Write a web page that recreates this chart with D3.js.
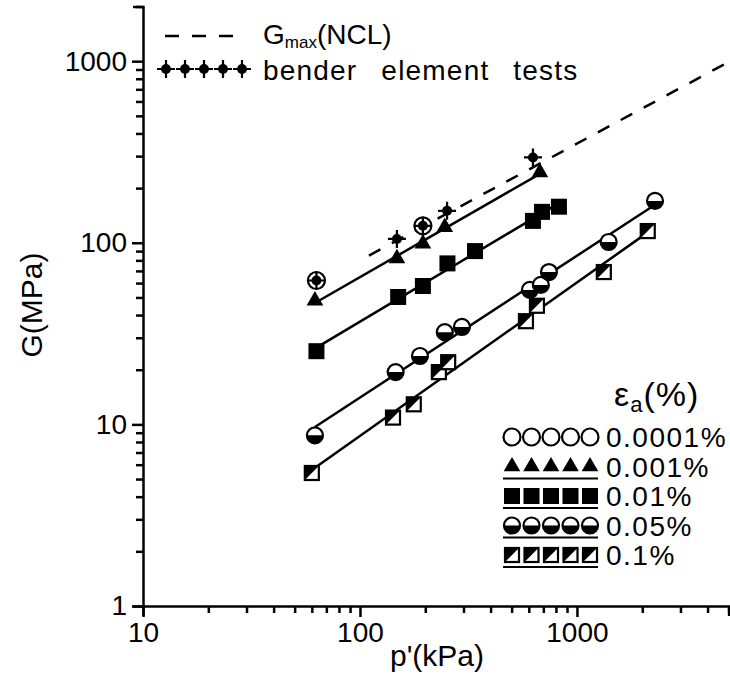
<!DOCTYPE html>
<html>
<head>
<meta charset="utf-8">
<script src="https://cdn.jsdelivr.net/npm/d3@7"></script>
<style>
  body { margin: 0; background: #fff; }
  svg { font-family: "Liberation Sans", Arial, sans-serif; }
</style>
</head>
<body>
<svg width="730" height="679"></svg>
<script>
// p' (kPa) and G (MPa)
const pBender = [63, 148, 195, 252, 627];
const gBender = [62, 105, 124, 150, 295];
const p0001 = [63, 195];
const g0001 = [62, 124];
const p001 = [62, 148, 195, 246, 675];
const g001 = [48, 82, 99, 122, 244];
const p01 = [63, 150, 195, 253, 339, 627, 690, 826];
const g01 = [25.3, 50.3, 57.8, 77, 90, 132, 148, 158];
const p05 = [62, 146, 189, 246, 295, 607, 682, 743, 1400, 2290];
const g05 = [8.7, 19.4, 23.8, 32.2, 34.4, 55, 58.6, 69, 101, 170];
const p1 = [60, 142, 177, 231, 255, 582, 654, 1330, 2120];
const g1 = [5.4, 10.9, 12.9, 19.4, 22, 37, 45, 69, 116];
// Gmax (NCL) dashed line ends
const pNCL = [110, 5000];
const gNCL = [85, 990];

const xLabels = [10, 100, 1000];
const yLabels = [1, 10, 100, 1000];
const strainLabels = ["0.0001%", "0.001%", "0.01%", "0.05%", "0.1%"];
const strainMarks = ["circle", "triangle", "square", "halfcircle", "halfsquare"];

const svg = d3.select("svg");

const x = d3.scaleLog().domain([10, 5000]).range([143, 728.6]);
const y = d3.scaleLog().domain([1, 2000]).range([606, 6.5]);

// axes
const gx = svg.append("g")
  .attr("transform", "translate(0," + y(1) + ")")
  .call(d3.axisBottom(x).tickValues(x.ticks()).tickSizeOuter(0).tickSize(10).tickPadding(6)
    .tickFormat(d => xLabels.includes(d) ? d : ""));
gx.selectAll(".tick line").attr("y2", d => xLabels.includes(d) ? 11 : 7);

const gy = svg.append("g")
  .attr("transform", "translate(" + x(10) + ",0)")
  .call(d3.axisLeft(y).tickValues(y.ticks()).tickSizeOuter(0).tickSize(10).tickPadding(6)
    .tickFormat(d => yLabels.includes(d) ? d : ""));
gy.selectAll(".tick line").attr("x2", d => yLabels.includes(d) ? -11 : -7);

svg.selectAll(".domain, .tick line").attr("stroke", "#000").attr("stroke-width", 2.5);
svg.selectAll(".tick text").attr("font-size", 28).attr("fill", "#000")
  .attr("font-family", "'Liberation Sans', Arial, sans-serif");

svg.append("text")
  .attr("transform", "translate(42,305) rotate(-90)")
  .attr("text-anchor", "middle")
  .attr("font-size", 30)
  .text("G(MPa)");

svg.append("text")
  .attr("x", 437).attr("y", 666)
  .attr("text-anchor", "middle")
  .attr("font-size", 30)
  .text("p'(kPa)");

// NCL dashed line
const line = d3.line().x(d => x(d[0])).y(d => y(d[1]));
svg.append("path")
  .attr("d", line(pNCL.map((p, i) => [p, gNCL[i]])))
  .attr("fill", "none").attr("stroke", "#000").attr("stroke-width", 2.5)
  .attr("stroke-dasharray", "13,13");

// straight line fits (log-log)
function fit(ps, gs) {
  const lx = ps.map(Math.log10), ly = gs.map(Math.log10);
  const mx = d3.mean(lx), my = d3.mean(ly);
  const b = d3.sum(lx, (v, i) => (v - mx) * (ly[i] - my)) / d3.sum(lx, v => (v - mx) * (v - mx));
  const a = my - b * mx;
  const ends = d3.extent(ps);
  return ends.map(p => [p, Math.pow(10, a + b * Math.log10(p))]);
}

[[p001, g001], [p01, g01], [p05, g05], [p1, g1]].forEach(s => {
  svg.append("path")
    .attr("d", line(fit(s[0], s[1])))
    .attr("fill", "none").attr("stroke", "#000").attr("stroke-width", 2.5);
});

// markers
function marker(g, type, cx, cy) {
  const m = g.append("g").attr("transform", "translate(" + cx + "," + cy + ")");
  if (type == "circle") {
    m.append("circle").attr("r", 8.5).attr("fill", "#fff").attr("stroke", "#000").attr("stroke-width", 2.2);
  } else if (type == "triangle") {
    m.append("path").attr("d", d3.symbol(d3.symbolTriangle, 120)()).attr("fill", "#000");
  } else if (type == "square") {
    m.append("rect").attr("x", -8).attr("y", -8).attr("width", 16).attr("height", 16).attr("fill", "#000");
  } else if (type == "halfcircle") {
    m.append("circle").attr("r", 8).attr("fill", "#fff").attr("stroke", "#000").attr("stroke-width", 2.2);
    m.append("path").attr("d", "M-8,0 A8,8 0 0 0 8,0 Z").attr("fill", "#000");
  } else if (type == "halfsquare") {
    m.append("rect").attr("x", -7).attr("y", -7).attr("width", 14).attr("height", 14)
      .attr("fill", "#fff").attr("stroke", "#000").attr("stroke-width", 2.2);
    m.append("path").attr("d", "M-7,-7 L7,-7 L-7,7 Z").attr("fill", "#000");
  } else if (type == "bender") {
    m.append("circle").attr("r", 5).attr("fill", "#000");
    m.append("path").attr("d", "M-9,0 H9 M0,-9 V9").attr("stroke", "#000").attr("stroke-width", 2.2);
  }
}

const pts = svg.append("g");
const series = [
  [p001, g001, "triangle"], [p01, g01, "square"], [p05, g05, "halfcircle"],
  [p1, g1, "halfsquare"], [p0001, g0001, "circle"], [pBender, gBender, "bender"]
];
series.forEach(s => {
  s[0].forEach((p, i) => marker(pts, s[2], x(p), y(s[1][i])));
});

// top-left legend
const lg = svg.append("g");
lg.append("line").attr("x1", 165).attr("x2", 242).attr("y1", 36).attr("y2", 36)
  .attr("stroke", "#000").attr("stroke-width", 2.5).attr("stroke-dasharray", "14,13");
const t1 = lg.append("text").attr("x", 263).attr("y", 44).attr("font-size", 28);
t1.append("tspan").text("G");
t1.append("tspan").attr("font-size", 17).attr("dy", 4).text("max");
t1.append("tspan").attr("dy", -4).text("(NCL)");
d3.range(5).forEach(i => marker(lg, "bender", 166 + i * 19, 69));
lg.append("text").attr("x", 263).attr("y", 80).attr("font-size", 28)
  .attr("letter-spacing", 1.2).attr("word-spacing", 15).text("bender element tests");

// bottom-right legend
const rg = svg.append("g");
const te = rg.append("text").attr("x", 614).attr("y", 406).attr("font-size", 34)
  .attr("letter-spacing", 1);
te.append("tspan").text("ε");
te.append("tspan").attr("font-size", 22).attr("dy", 6).text("a");
te.append("tspan").attr("dy", -6).text("(%)");
strainLabels.forEach((lab, r) => {
  const cy = 437 + r * 29.5;
  d3.range(5).forEach(i => marker(rg, strainMarks[r], 512 + i * 19.5, cy));
  if (r > 0) {
    rg.append("line").attr("x1", 503).attr("x2", 598).attr("y1", cy + 12).attr("y2", cy + 12)
      .attr("stroke", "#000").attr("stroke-width", 2.2);
  }
  rg.append("text").attr("x", 606).attr("y", cy + 10).attr("font-size", 28)
    .attr("letter-spacing", 1.5).text(lab);
});
</script>
</body>
</html>
